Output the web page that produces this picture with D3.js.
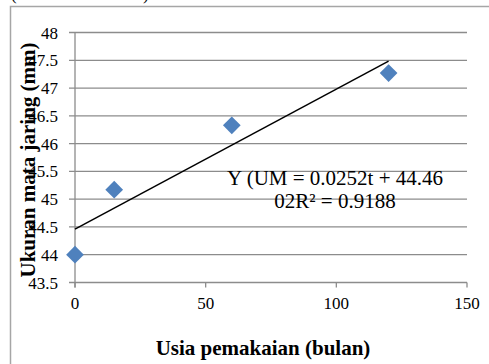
<!DOCTYPE html>
<html>
<head>
<meta charset="utf-8">
<script src="https://cdn.jsdelivr.net/npm/d3@7"></script>
<style>
  body { margin: 0; background: #fff; }
  svg { display: block; font-family: "Liberation Serif", "Times New Roman", serif; }
</style>
</head>
<body>
<div id="chart"></div>
<script>
// data
const usia = [0, 15, 60, 120];
const ukuran = [44.0, 45.17, 46.33, 47.27];
const xTicks = [0, 50, 100, 150];
const yTicks = [43.5, 44, 44.5, 45, 45.5, 46, 46.5, 47, 47.5, 48];
const yTickLabels = ["43.5", "44", "44.5", "45", "45.5", "46", "46.5", "47", "47.5", "48"];
const trend = { slope: 0.0252, intercept: 44.46, from: 0, to: 120 };
const eqLines = ["Y (UM = 0.0252t + 44.46", "02R² = 0.9188"];

const width = 489, height = 364;
const svg = d3.select("#chart").append("svg")
  .attr("width", width)
  .attr("height", height);

// outer chart border (only top + left visible)
svg.append("path")
  .attr("d", "M10.5,370 V6.5 H495")
  .attr("fill", "none")
  .attr("stroke", "#a6a6a6")
  .attr("stroke-width", 1.5);

// bottoms of the cut-off caption above the chart
svg.append("text").attr("x", 11).attr("y", 0).attr("font-size", 17).text("(");
svg.append("text").attr("x", 143).attr("y", 0).attr("font-size", 17).text(")");

const x = d3.scaleLinear().domain([0, 150]).range([75, 467]);
const y = d3.scaleLinear().domain([43.5, 48]).range([282.5, 32.5]);

// horizontal gridlines
svg.append("g")
  .selectAll("line")
  .data(yTicks)
  .enter().append("line")
  .attr("x1", 69).attr("x2", x(150))
  .attr("y1", d => y(d)).attr("y2", d => y(d))
  .attr("stroke", "#8c8c8c")
  .attr("stroke-width", 1.3);

// y axis line
svg.append("line")
  .attr("x1", x(0)).attr("x2", x(0))
  .attr("y1", y(48)).attr("y2", y(43.5) + 5)
  .attr("stroke", "#8c8c8c").attr("stroke-width", 1.3);

// x tick marks
svg.append("g")
  .selectAll("line")
  .data(xTicks)
  .enter().append("line")
  .attr("x1", d => x(d)).attr("x2", d => x(d))
  .attr("y1", y(43.5)).attr("y2", y(43.5) + 5)
  .attr("stroke", "#8c8c8c").attr("stroke-width", 1.3);

// y tick labels
svg.append("g")
  .selectAll("text")
  .data(yTicks)
  .enter().append("text")
  .attr("x", 58)
  .attr("y", d => y(d) + 6)
  .attr("text-anchor", "end")
  .attr("font-size", 17)
  .text((d, i) => yTickLabels[i]);

// x tick labels
svg.append("g")
  .selectAll("text")
  .data(xTicks)
  .enter().append("text")
  .attr("x", d => x(d))
  .attr("y", 309)
  .attr("text-anchor", "middle")
  .attr("font-size", 17)
  .text(d => d);

// linear trendline
svg.append("line")
  .attr("x1", x(trend.from)).attr("y1", y(trend.intercept + trend.slope * trend.from))
  .attr("x2", x(trend.to)).attr("y2", y(trend.intercept + trend.slope * trend.to))
  .attr("stroke", "#000").attr("stroke-width", 1.5);

// diamond markers
const diamond = d3.symbol().type(d3.symbolDiamond2).size(200);
svg.append("g")
  .selectAll("path")
  .data(usia)
  .enter().append("path")
  .attr("d", diamond)
  .attr("transform", (d, i) => `translate(${x(d)},${y(ukuran[i])})`)
  .attr("fill", "#4f81bd");

// equation label
svg.append("g")
  .selectAll("text")
  .data(eqLines)
  .enter().append("text")
  .attr("x", 335)
  .attr("y", (d, i) => 185 + i * 23)
  .attr("text-anchor", "middle")
  .attr("font-size", 21)
  .text(d => d);

// axis titles
svg.append("text")
  .attr("x", 263).attr("y", 355)
  .attr("text-anchor", "middle")
  .attr("font-size", 21).attr("font-weight", "bold")
  .text("Usia pemakaian (bulan)");

svg.append("text")
  .attr("transform", "translate(35,160) rotate(-90)")
  .attr("text-anchor", "middle")
  .attr("font-size", 21).attr("font-weight", "bold")
  .text("Ukuran mata jaring (mm)");
</script>
</body>
</html>
